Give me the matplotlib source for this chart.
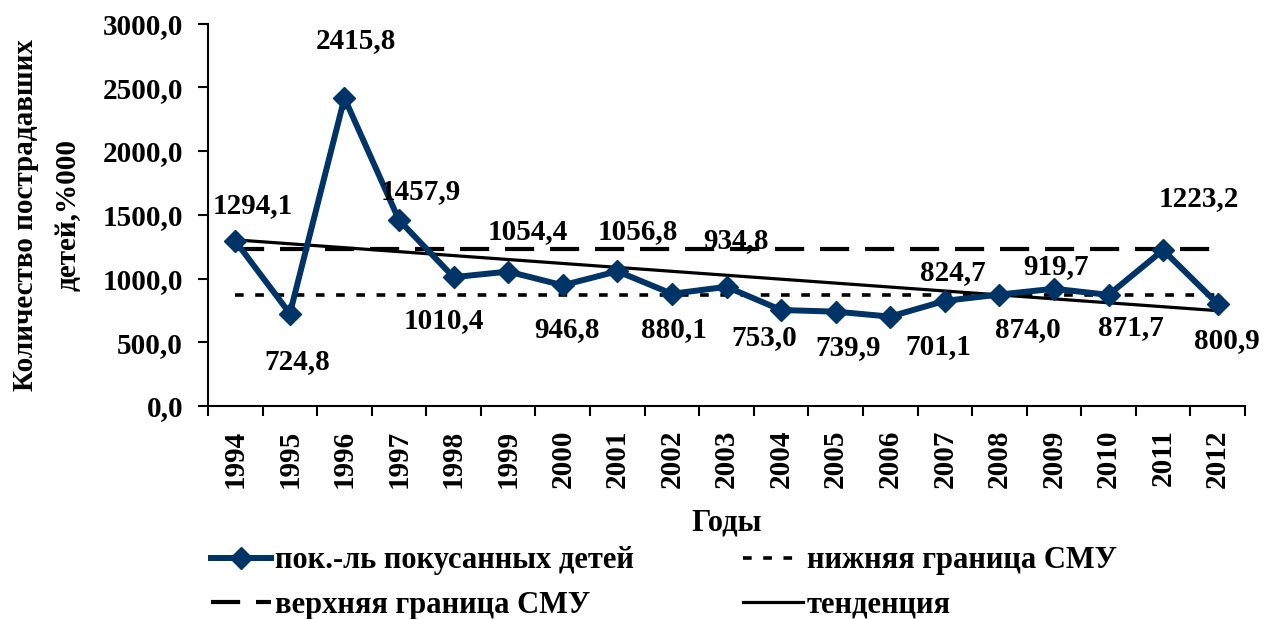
import numpy as np
import matplotlib
matplotlib.use("Agg")
import matplotlib.pyplot as plt

years = ["1994", "1995", "1996", "1997", "1998", "1999", "2000", "2001", "2002", "2003",
         "2004", "2005", "2006", "2007", "2008", "2009", "2010", "2011", "2012"]
bitten_rate = [1294.1, 724.8, 2415.8, 1457.9, 1010.4, 1054.4, 946.8, 1056.8, 880.1, 934.8,
               753.0, 739.9, 701.1, 824.7, 874.0, 919.7, 871.7, 1223.2, 800.9]
lower_bound = 870.0
upper_bound = 1232.0

series_name = "пок.-ль покусанных детей"
lower_name = "нижняя граница СМУ"
upper_name = "верхняя граница СМУ"
trend_name = "тенденция"
y_label = "Количество пострадавших\nдетей,%000"
x_label = "Годы"
y_ticks = [0, 500, 1000, 1500, 2000, 2500, 3000]

# label offsets in pixels (dx, dy)
label_offsets = [(17, 35), (7, -48), (11, 57), (22, 29), (-10, -43), (20, 40), (4, -44),
                 (20, 40), (2, -36), (10, 46), (-17, -28), (12, -36), (48, -30), (8, 28),
                 (28, -35), (2, 22), (22, -33), (36, 51), (9, -37)]

plt.rcParams['font.family'] = ['Liberation Serif', 'DejaVu Serif']
plt.rcParams['font.weight'] = 'bold'
FS = 21
LFS = 22
NAVY = '#003366'

W, H = 1265, 619
fig = plt.figure(figsize=(W / 100, H / 100), dpi=100)
ax = fig.add_axes([208 / W, 1 - 406 / H, (1245 - 208) / W, (406 - 23.5) / H])

x = np.arange(len(years))
ax.plot(x, bitten_rate, color=NAVY, lw=4.3, marker='D', ms=11, mfc=NAVY, mec=NAVY,
        zorder=4, label=series_name)
ax.plot([x[0], x[-1]], [upper_bound, upper_bound], color='black', lw=3,
        dashes=(7, 3.8), zorder=2, label=upper_name)
ax.plot([x[0], x[-1]], [lower_bound, lower_bound], color='black', lw=2.6,
        dashes=(2.4, 3.2), zorder=2, label=lower_name)
coef = np.polyfit(x, bitten_rate, 1)
ax.plot([x[0], x[-1]], np.polyval(coef, [x[0], x[-1]]), color='black', lw=2.3,
        zorder=3, label=trend_name)

for xi, v, (dx, dy) in zip(x, bitten_rate, label_offsets):
    ax.annotate(f"{v:.1f}".replace('.', ','), (xi, v), xytext=(dx, dy),
                textcoords='offset pixels', ha='center', va='center',
                fontsize=FS, fontweight='bold', zorder=5)

ax.set_xlim(-0.5, len(years) - 0.5)
ax.set_ylim(0, 3000)
ax.set_yticks(y_ticks)
ax.set_yticklabels([f"{t:.1f}".replace('.', ',') for t in y_ticks], fontsize=FS,
                   fontweight='bold')
ax.set_xticks(x)
ax.set_xticklabels(years, rotation=90, fontsize=FS, fontweight='bold')
ax.set_xticks(np.arange(-0.5, len(years)), minor=True)
ax.tick_params(axis='x', which='major', length=0, pad=17)
ax.tick_params(axis='x', which='minor', length=7, width=1.5, direction='out')
ax.tick_params(axis='y', length=7, width=1.5, direction='out', pad=11)
for s in ['top', 'right']:
    ax.spines[s].set_visible(False)
for s in ['left', 'bottom']:
    ax.spines[s].set_linewidth(1.5)

fig.text(727 / W, 1 - 523 / H, x_label, ha='center', va='center', fontsize=LFS,
         fontweight='bold')
fig.text(47 / W, 1 - 215 / H, y_label, ha='center', va='center', rotation=90,
         fontsize=FS, fontweight='bold', linespacing=1.75)

h = {l.get_label(): l for l in ax.get_lines()}
handles = [h[series_name], h[upper_name], h[lower_name], h[trend_name]]
leg = fig.legend(handles=handles, labels=[hh.get_label() for hh in handles], ncol=2,
                 loc='upper left', bbox_to_anchor=(196 / W, 1 - 531 / H),
                 frameon=False, handlelength=1.95, handletextpad=0.12,
                 columnspacing=3.6, labelspacing=0.5, borderpad=0,
                 prop={'weight': 'bold', 'size': LFS})

fig.savefig('out.png', dpi=100)
